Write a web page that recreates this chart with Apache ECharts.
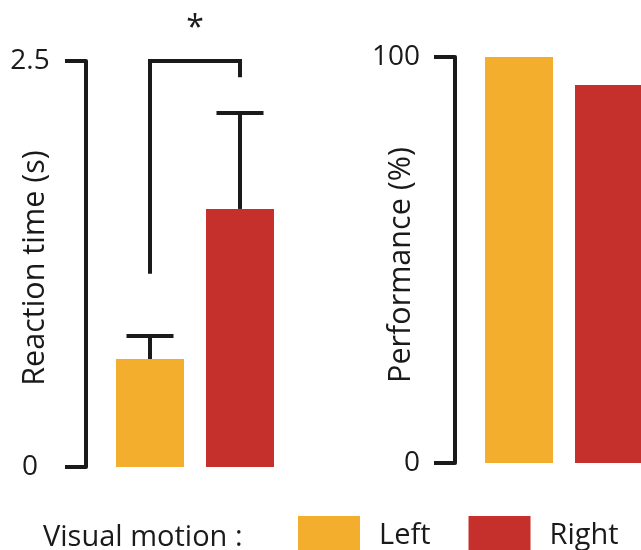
<!DOCTYPE html>
<html>
<head>
<meta charset="utf-8">
<script src="https://cdn.jsdelivr.net/npm/echarts@6/dist/echarts.min.js"></script>
<style>html,body{margin:0;padding:0;background:#fff}#c{width:641px;height:550px}</style>
</head>
<body>
<div id="c"></div>
<script>
// ---- data ----
var categories = ['Left', 'Right'];
var rtMean = [0.665, 1.589];          // reaction time (s)
var rtUpper = [0.807, 2.18];          // mean + error
var perfValues = [100, 93.1];         // performance (%)
var rtTicks = [0, 2.5];
var perfTicks = [0, 100];
var sigFrom = 0, sigTo = 1;           // category indices of bracket
var sigLeftBottom = 1.19, sigTop = 2.5, sigRightBottom = 2.4;
var sigLabel = '*', sigLabelValue = 2.7;
var legendTitle = 'Visual motion :';

var colors = {Left: '#F2AE2C', Right: '#C6302C'};
var ink = '#1a1a1a';
var FONT = '"Open Sans", sans-serif';

function only(arr, i) { return arr.map(function (v, k) { return k === i ? v : '-'; }); }

var chart = echarts.init(document.getElementById('c'), null, {renderer: 'canvas'});

var axisCommon = {
  type: 'value',
  offset: 19,
  splitLine: {show: false},
  axisLine: {show: true, lineStyle: {color: ink, width: 4}},
  axisTick: {show: true, length: 21, lineStyle: {color: ink, width: 4}},
  nameLocation: 'middle',
  nameMoveOverlap: false,
  nameTextStyle: {fontFamily: FONT, fontSize: 30.5, color: ink}
};

var option = {
  animation: false,
  backgroundColor: '#fff',
  textStyle: {fontFamily: FONT},
  grid: [
    {left: 105, width: 180, top: 61, bottom: 83, outerBoundsMode: 'none', containLabel: false},
    {left: 474, width: 180, top: 57, bottom: 87, outerBoundsMode: 'none', containLabel: false}
  ],
  xAxis: [
    {type: 'category', gridIndex: 0, data: categories, show: false},
    {type: 'category', gridIndex: 1, data: categories, show: false}
  ],
  yAxis: [
    Object.assign({}, axisCommon, {
      gridIndex: 0, min: rtTicks[0], max: rtTicks[1], interval: rtTicks[1] - rtTicks[0],
      name: 'Reaction time (s)', nameGap: 35,
      nameTextStyle: Object.assign({}, axisCommon.nameTextStyle, {padding: [0, 8, 0, 0]}),
      axisLabel: {margin: 56, align: 'center', fontFamily: FONT, fontSize: 28, color: ink}
    }),
    Object.assign({}, axisCommon, {
      gridIndex: 1, min: perfTicks[0], max: perfTicks[1], interval: perfTicks[1] - perfTicks[0],
      name: 'Performance (%)', nameGap: 38,
      nameTextStyle: Object.assign({}, axisCommon.nameTextStyle, {padding: [0, 10, 0, 0]}),
      axisLabel: {margin: 35, align: 'right', fontFamily: FONT, fontSize: 28, color: ink}
    })
  ],
  legend: {
    left: 298, top: 516, padding: 0,
    itemWidth: 62, itemHeight: 40, itemGap: 38,
    icon: 'rect',
    data: categories,
    textStyle: {fontFamily: FONT, fontSize: 29, color: ink, padding: [4, 0, 0, 14]}
  },
  graphic: [
    {type: 'text', left: 43, top: 518,
     style: {text: legendTitle, font: '29px ' + FONT, fill: ink, lineHeight: 40, height: 40, verticalAlign: 'middle'}}
  ],
  series: [
    {name: 'Left', type: 'bar', xAxisIndex: 0, yAxisIndex: 0, stack: 'rt', barWidth: 68,
     itemStyle: {color: colors.Left}, data: only(rtMean, 0)},
    {name: 'Right', type: 'bar', xAxisIndex: 0, yAxisIndex: 0, stack: 'rt', barWidth: 68,
     itemStyle: {color: colors.Right}, data: only(rtMean, 1)},
    {name: 'Left', type: 'bar', xAxisIndex: 1, yAxisIndex: 1, stack: 'perf', barWidth: 68,
     itemStyle: {color: colors.Left}, data: only(perfValues, 0)},
    {name: 'Right', type: 'bar', xAxisIndex: 1, yAxisIndex: 1, stack: 'perf', barWidth: 68,
     itemStyle: {color: colors.Right}, data: only(perfValues, 1)},
    {
      type: 'custom', xAxisIndex: 0, yAxisIndex: 0, silent: true,
      data: rtMean.map(function (m, i) { return [i, m, rtUpper[i]]; }),
      encode: {x: 0, y: [1, 2]},
      renderItem: function (params, api) {
        var lo = api.coord([api.value(0), api.value(1)]);
        var hi = api.coord([api.value(0), api.value(2)]);
        var half = 23.5;
        var st = {stroke: ink, lineWidth: 4, fill: 'none'};
        return {type: 'group', children: [
          {type: 'line', shape: {x1: lo[0], y1: lo[1], x2: hi[0], y2: hi[1]}, style: st},
          {type: 'line', shape: {x1: hi[0] - half, y1: hi[1], x2: hi[0] + half, y2: hi[1]}, style: st}
        ]};
      }
    },
    {
      type: 'custom', xAxisIndex: 0, yAxisIndex: 0, silent: true, clip: false,
      data: [[sigFrom, sigTo, sigLeftBottom, sigTop, sigRightBottom, sigLabelValue]],
      encode: {x: [0, 1], y: [2, 3, 4]},
      renderItem: function (params, api) {
        var a = api.coord([api.value(0), api.value(2)]);
        var b = api.coord([api.value(0), api.value(3)]);
        var c = api.coord([api.value(1), api.value(3)]);
        var d = api.coord([api.value(1), api.value(4)]);
        var ty = api.coord([api.value(0), api.value(5)])[1];
        var tx = (b[0] + c[0]) / 2;
        return {type: 'group', children: [
          {type: 'polyline', shape: {points: [a, b, c, d]},
           style: {stroke: ink, lineWidth: 4, fill: null, lineJoin: 'miter'}},
          {type: 'text', style: {x: tx, y: ty, text: sigLabel, font: '32px ' + FONT,
            fill: ink, align: 'center', verticalAlign: 'middle'}}
        ]};
      }
    }
  ]
};
chart.setOption(option);
</script>
</body>
</html>
